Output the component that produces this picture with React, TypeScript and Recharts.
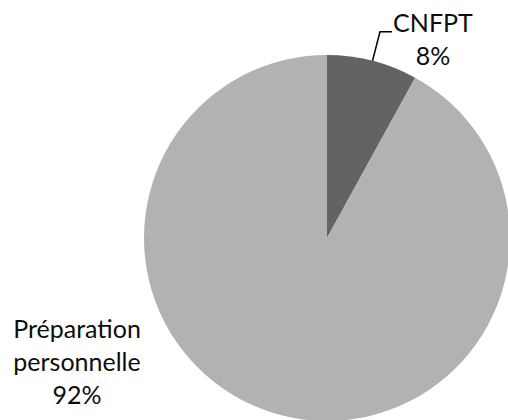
import { PieChart, Pie, Cell } from 'recharts';

const names = ['CNFPT', 'Préparation personnelle'];
const values = [8, 92];
const colors = ['#636363', '#b2b2b2'];

const data = names.map((name, i) => ({ name, value: values[i] }));

const RAD = Math.PI / 180;
const FONT = 'Lato, Calibri, sans-serif';
const FS = 25;
const LH = 33;

const renderLabel = (props: any) => {
  const { cx, cy, midAngle, outerRadius, index, percent } = props;
  const pct = `${Math.round(percent * 100)}%`;
  if (index === 0) {
    // leader line: arc -> elbow -> short horizontal
    const cos = Math.cos(-midAngle * RAD);
    const sin = Math.sin(-midAngle * RAD);
    const x0 = cx + outerRadius * cos;
    const y0 = cy + outerRadius * sin;
    const x1 = cx + (outerRadius + 30) * cos;
    const y1 = cy + (outerRadius + 30) * sin;
    const x2 = x1 + 12;
    const tx = x2 + 41;
    return (
      <g>
        <polyline points={`${x0},${y0} ${x1},${y1} ${x2},${y1}`} fill="none" stroke="#000" strokeWidth={1.5} />
        <text x={tx} y={y1} textAnchor="middle" fontFamily={FONT} fontSize={FS} fill="#0d0d0d">
          <tspan x={tx} y={y1}>CNFPT</tspan>
          <tspan x={tx} y={y1 + LH}>{pct}</tspan>
        </text>
      </g>
    );
  }
  const tx = cx - outerRadius - 67;
  const words = names[index].split(' ');
  return (
    <text x={tx} y={cy + 100} textAnchor="middle" fontFamily={FONT} fontSize={FS} fill="#0d0d0d">
      {words.map((w, i) => (
        <tspan key={w} x={tx} y={cy + 100 + i * LH}>{w}</tspan>
      ))}
      <tspan x={tx} y={cy + 100 + words.length * LH}>{pct}</tspan>
    </text>
  );
};

export default function App() {
  return (
    <div style={{ position: 'absolute', left: 0, top: 0, width: 508, height: 420, background: '#fff' }}>
      <PieChart width={508} height={420} margin={{ top: 0, right: 0, bottom: 0, left: 0 }}>
        <Pie
          data={data}
          dataKey="value"
          nameKey="name"
          cx={327}
          cy={238}
          outerRadius={183}
          startAngle={90}
          endAngle={-270}
          stroke="none"
          label={renderLabel}
          labelLine={false}
          isAnimationActive={false}
        >
          {data.map((d, i) => (
            <Cell key={d.name} fill={colors[i]} />
          ))}
        </Pie>
      </PieChart>
    </div>
  );
}
